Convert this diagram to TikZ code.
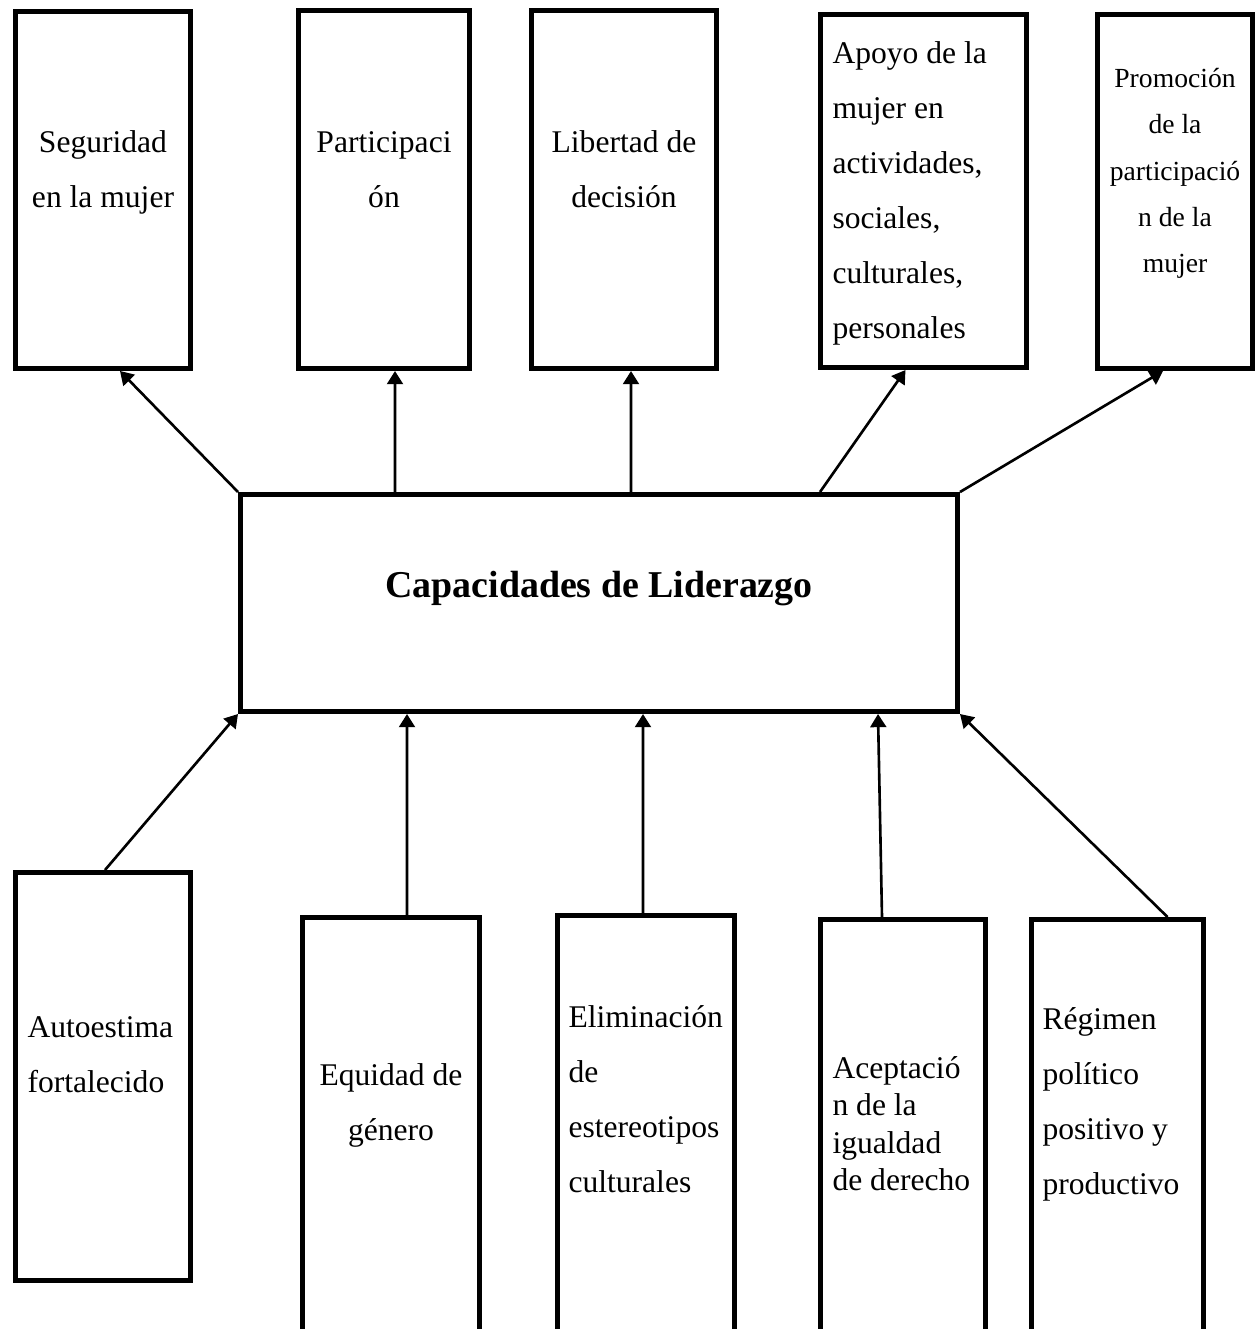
\documentclass[tikz,border=0pt]{standalone}
\usepackage{fontspec}
\setmainfont{Liberation Serif}
\usepackage{tikz}
\usetikzlibrary{arrows.meta}
\newcommand{\pxu}{0.38pt}
\tikzset{
  caja/.style={draw=black, line width=1.9pt, rectangle, inner sep=0pt},
  flecha/.style={line width=1pt, -{Triangle[length=5pt,width=6pt]}},
  texto/.style={inner sep=0pt, font={\fontsize{12}{20.9}\selectfont}},
}

\begin{document}
\begin{tikzpicture}[x=\pxu,y=-\pxu]
\useasboundingbox (0,0) rectangle (1257,1329);

%% cajas de arriba
\node[caja, minimum width=175*\pxu, minimum height=357*\pxu] (seg) at (103,190) {};
\node[caja, minimum width=171*\pxu, minimum height=358*\pxu] (part) at (384,189.5) {};
\node[caja, minimum width=185*\pxu, minimum height=358*\pxu] (lib) at (624,189.5) {};
\node[caja, minimum width=206*\pxu, minimum height=353*\pxu] (apo) at (923.5,191) {};
\node[caja, minimum width=155*\pxu, minimum height=354*\pxu] (pro) at (1175,191.5) {};

\node[texto, anchor=north, align=center] (tseg) at (103,113.5) {\strut Seguridad\\en la mujer};
\node[texto, anchor=north, align=center] (tpart) at (384,113.5) {\strut Participaci\\ón};
\node[texto, anchor=north, align=center] (tlib) at (624,113.5) {\strut Libertad de\\decisión};
\node[texto, anchor=north west, align=left] (tapo) at (832,24.5) {\strut Apoyo de la\\mujer en\\actividades,\\sociales,\\culturales,\\personales};
\node[texto, anchor=north, align=center, font={\fontsize{10.5}{17.6}\selectfont}] (tpro) at (1175,54.6)
   {\strut Promoción\\de la\\participació\\n de la\\mujer};

%% caja central
\node[caja, minimum width=717*\pxu, minimum height=217*\pxu] (cap) at (599,603) {};
\node[inner sep=0pt, anchor=base, font={\fontsize{14.4}{17}\selectfont\bfseries}] (tcap) at (599,597) {Capacidades de Liderazgo};

%% cajas de abajo (las de la fila baja se salen por abajo)
\node[caja, minimum width=175*\pxu, minimum height=408*\pxu] (aut) at (103,1076.5) {};
\node[caja, minimum width=177*\pxu, minimum height=415.5*\pxu] (equ) at (391,1125.25) {};
\node[caja, minimum width=177*\pxu, minimum height=417.5*\pxu] (eli) at (646,1124.25) {};
\node[caja, minimum width=165*\pxu, minimum height=413.5*\pxu] (ace) at (903,1126.25) {};
\node[caja, minimum width=172*\pxu, minimum height=413.5*\pxu] (reg) at (1117.5,1126.25) {};

\node[texto, anchor=north west, align=left] (taut) at (27,998.5) {\strut Autoestima\\fortalecido};
\node[texto, anchor=north, align=center] (tequ) at (391,1046.5) {\strut Equidad de\\género};
\node[texto, anchor=north west, align=left] (teli) at (568,988.5) {\strut Eliminación\\de\\estereotipos\\culturales};
\node[texto, anchor=north west, align=left, font={\fontsize{12}{14.2}\selectfont}] (tace) at (832,1051.9)
   {\strut Aceptació\\n de la\\igualdad\\de derecho};
\node[texto, anchor=north west, align=left] (treg) at (1042,990.5) {\strut Régimen\\político\\positivo y\\productivo};

%% flechas hacia arriba
\draw[flecha] (cap.north west) -- ([xshift=17*\pxu]seg.south);
\draw[flecha] ([xshift=157*\pxu]cap.north west) -- ([xshift=11*\pxu]part.south);
\draw[flecha] ([xshift=393*\pxu]cap.north west) -- ([xshift=7*\pxu]lib.south);
\draw[flecha] ([xshift=582*\pxu]cap.north west) -- ([xshift=-18*\pxu]apo.south);
\draw[flecha] (cap.north east) -- ([xshift=-12*\pxu]pro.south);

%% flechas hacia la caja central
\draw[flecha] ([xshift=2*\pxu]aut.north) -- (cap.south west);
\draw[flecha] ([xshift=16*\pxu]equ.north) -- ([xshift=169*\pxu]cap.south west);
\draw[flecha] ([xshift=-3*\pxu]eli.north) -- ([xshift=405*\pxu]cap.south west);
\draw[flecha] ([xshift=-21*\pxu]ace.north) -- ([xshift=640*\pxu]cap.south west);
\draw[flecha] ([xshift=50*\pxu]reg.north) -- (cap.south east);

\end{tikzpicture}
\end{document}
